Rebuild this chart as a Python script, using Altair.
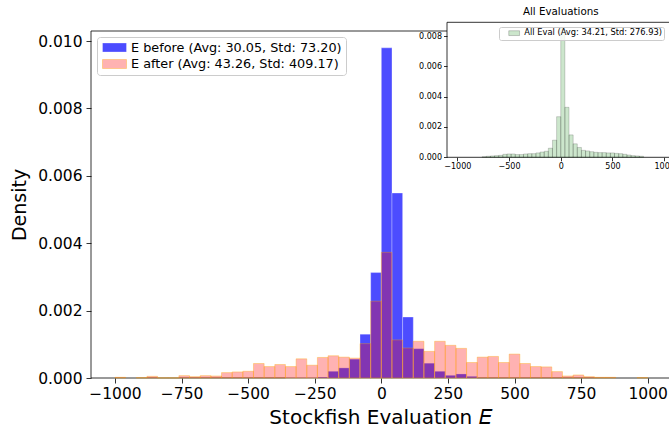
import altair as alt
import pandas as pd

# ---- data -------------------------------------------------------------
# main histogram: 50 bins of width 40 from -1000 to 1000 (left edges)
bin_left = list(range(-1000, 1000, 40))
before_density = [0, 0, 0, 0, 0, 0, 0, 0, 0, 0, 0, 0, 0, 0, 0, 0,
                  0.00001, 0.00001, 0.00001, 0.00003, 0.0002, 0.0003, 0.00056, 0.0013, 0.00313,
                  0.0098, 0.00549, 0.00181, 0.00087, 0.00044, 0.0002, 0.00008, 0.00012, 0.00005,
                  0, 0, 0, 0, 0, 0, 0, 0, 0, 0, 0, 0, 0, 0, 0, 0]
after_density = [0.00002, 0.0, 0.00001, 0.00005, 0.000005, 0.000005, 0.00007, 0.00004, 0.00007, 0.00006,
                 0.00016, 0.00018, 0.0002, 0.00043, 0.00034, 0.0004, 0.00034, 0.00057, 0.00038, 0.00061,
                 0.00066, 0.00062, 0.00059, 0.00102, 0.00228, 0.00373, 0.00113, 0.00089, 0.00109, 0.00079,
                 0.00109, 0.00097, 0.00088, 0.00046, 0.00062, 0.00064, 0.00046, 0.00071, 0.00043, 0.00034,
                 0.00033, 0.00019, 0.00006, 0.00009, 0.00004, 0.00002, 0.00002, 0.0, 0.0, 0.00001]
# inset histogram: bins of width 40 from -760 to 800 (left edges)
all_left = list(range(-760, 800, 40))
all_density = [0.00004, 0.00007, 0.00009, 0.00011, 0.00013, 0.0002, 0.00022, 0.00022, 0.00018, 0.00018,
               0.00022, 0.00024, 0.00024, 0.00029, 0.00035, 0.0004, 0.0006, 0.00113, 0.00268, 0.0085,
               0.0033, 0.00148, 0.00089, 0.00065, 0.00046, 0.00042, 0.00037, 0.00033, 0.00031, 0.00031,
               0.00029, 0.00029, 0.00026, 0.00024, 0.0002, 0.00015, 0.00011, 0.00009, 0.00007]
bin_width = 40

label_before = "E before (Avg: 30.05, Std: 73.20)"
label_after = "E after (Avg: 43.26, Std: 409.17)"
label_all = "All Eval (Avg: 34.21, Std: 276.93)"
inset_title = "All Evaluations"

main_x_ticks = [-1000, -750, -500, -250, 0, 250, 500, 750, 1000]
main_y_ticks = [0, 0.002, 0.004, 0.006, 0.008, 0.010]
inset_x_ticks = [-1000, -500, 0, 500, 1000]
inset_y_ticks = [0, 0.002, 0.004, 0.006, 0.008]

# ---- tables ------------------------------------------------------------
rows = []
for lab, dens in ((label_before, before_density), (label_after, after_density)):
    for l, d in zip(bin_left, dens):
        if d > 0:
            rows.append({"left": l, "right": l + bin_width, "density": d, "series": lab})
main_df = pd.DataFrame(rows)
all_df = pd.DataFrame({"left": all_left,
                       "right": [l + bin_width for l in all_left],
                       "density": all_density,
                       "series": label_all})
frame_df = pd.DataFrame({"x0": [-1090], "x1": [1100], "y0": [0.0], "y1": [0.0103]})
inset_box_df = pd.DataFrame({"x0": [-1100], "x1": [1100], "y0": [0.0], "y1": [0.00891]})
inset_title_df = pd.DataFrame({"x": [0], "y": [0.0096], "t": [inset_title]})

FONT = "DejaVu Sans"


def main_x():
    return alt.Scale(domain=[-1090, 1080], nice=False, zero=False)


def main_y():
    return alt.Scale(domain=[0, 0.0103], nice=False)


def inset_x():
    return alt.Scale(domain=[-1100, 1100], range=[356, 583.5], nice=False, zero=False)


def inset_y():
    return alt.Scale(domain=[0, 0.00891], range=[126.3, -8.7], nice=False)


main_path = "M-2,-0.75H2V0.75H-2Z"
inset_path = "M-1.8,-0.8H1.8V0.8H-1.8Z"

main_legend = alt.Legend(orient="none", legendX=6, legendY=6, symbolType=main_path, symbolSize=144,
                         symbolStrokeWidth=1, labelFontSize=12.8, labelFont=FONT, labelLimit=400,
                         fillColor="white", strokeColor="#cccccc", cornerRadius=3, padding=4,
                         rowPadding=2.5, symbolOffset=7, labelOffset=10)
inset_legend = alt.Legend(orient="none", legendX=408, legendY=-4, symbolType=inset_path, symbolSize=36,
                          symbolStrokeWidth=0.8, symbolStrokeColor="rgba(0,0,0,0.25)",
                          labelFontSize=8.3, labelFont=FONT, labelLimit=400,
                          fillColor="rgba(255,255,255,0.8)", strokeColor="#cccccc", cornerRadius=2,
                          padding=2, symbolOffset=9, labelOffset=6)

frame = alt.Chart(frame_df).mark_rect(fillOpacity=0, stroke="black", strokeWidth=0.8).encode(
    x=alt.X("x0:Q", scale=main_x(), axis=None), x2="x1:Q",
    y=alt.Y("y0:Q", scale=main_y(), axis=None), y2="y1:Q")

bars = alt.Chart(main_df).mark_rect(strokeWidth=1).encode(
    x=alt.X("left:Q", scale=main_x(),
            axis=alt.Axis(values=main_x_ticks, format="d", labelFontSize=15.5, tickSize=5,
                          labelPadding=3, domain=False, tickWidth=0.8, titleFontSize=20,
                          titlePadding=6),
            title="Stockfish Evaluation 𝐸"),
    x2="right:Q",
    y=alt.Y("density:Q", scale=main_y(),
            axis=alt.Axis(values=main_y_ticks, format=".3f", labelFontSize=15.5, tickSize=5,
                          labelPadding=4, domain=False, tickWidth=0.8, titleFontSize=19,
                          titlePadding=8),
            title="Density"),
    y2=alt.datum(0),
    fill=alt.Fill("series:N", title=None, legend=main_legend,
                  scale=alt.Scale(domain=[label_before, label_after],
                                  range=["rgba(0,0,255,0.7)", "rgba(255,0,0,0.3)"])),
    stroke=alt.Stroke("series:N", title=None, legend=main_legend,
                      scale=alt.Scale(domain=[label_before, label_after],
                                      range=["rgba(255,255,255,0.3)", "rgba(255,165,0,0.35)"])),
)

inset_box = alt.Chart(inset_box_df).mark_rect(fill="white", stroke="black", strokeWidth=0.8).encode(
    x=alt.X("x0:Q", scale=inset_x(),
            axis=alt.Axis(orient="bottom", offset=-220.7, values=inset_x_ticks, format="d",
                          labelFontSize=8, tickSize=3.5, labelPadding=2, domain=False,
                          tickWidth=0.8, zindex=1, title=None)),
    x2="x1:Q",
    y=alt.Y("y0:Q", scale=inset_y(),
            axis=alt.Axis(orient="left", offset=-356, values=inset_y_ticks, format=".3f",
                          labelFontSize=8, tickSize=3.5, labelPadding=2, domain=False,
                          tickWidth=0.8, zindex=1, title=None)),
    y2="y1:Q")

inset_bars = alt.Chart(all_df).mark_rect(stroke="rgba(0,0,0,0.22)", strokeWidth=0.8).encode(
    x=alt.X("left:Q", scale=inset_x(), axis=None), x2="right:Q",
    y=alt.Y("density:Q", scale=inset_y(), axis=None), y2=alt.datum(0),
    fill=alt.Fill("series:N", title=None, legend=inset_legend,
                  scale=alt.Scale(domain=[label_all], range=["rgba(0,128,0,0.2)"])))

inset_text = alt.Chart(inset_title_df).mark_text(fontSize=10.3, font=FONT, color="black",
                                                  align="center", baseline="middle").encode(
    x=alt.X("x:Q", scale=inset_x(), axis=None),
    y=alt.Y("y:Q", scale=inset_y(), axis=None),
    text="t:N")

chart = alt.layer(frame, bars, inset_box, inset_bars, inset_text).resolve_scale(
    x="independent", y="independent", fill="independent", stroke="independent"
).properties(
    width=578, height=347,
    padding={"left": 91, "top": 31, "right": 0, "bottom": 50},
    autosize=alt.AutoSizeParams(type="none"),
).configure(font=FONT).configure_axis(
    labelColor="black", titleColor="black", domainColor="black", tickColor="black",
    labelFont=FONT, titleFont=FONT, grid=False, titleFontWeight="normal"
).configure_legend(labelColor="black").configure_view(stroke="transparent")

chart.save("out.html", embed_options={"renderer": "svg", "actions": False})
